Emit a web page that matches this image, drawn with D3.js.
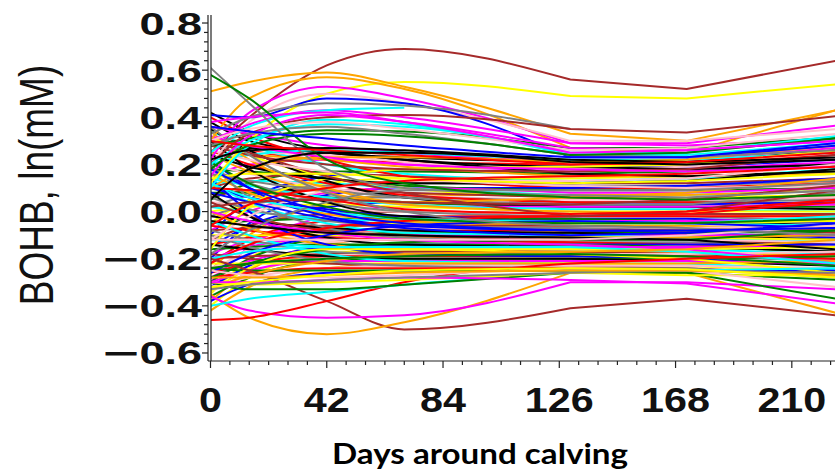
<!DOCTYPE html>
<html>
<head>
<meta charset="utf-8">
<script src="https://cdn.jsdelivr.net/npm/d3@7"></script>
<style>
  html, body { margin: 0; padding: 0; background: #fff; }
  svg { display: block; }
</style>
</head>
<body>
<div id="chart"></div>
<script>
// knot days of each fitted curve (smooth up to day 130, straight after)
var days = [0, 14, 42, 70, 130, 172, 226];

// tick labels
var yTicks = [0.8, 0.6, 0.4, 0.2, 0.0, -0.2, -0.4, -0.6];
var xTicks = [0, 42, 84, 126, 168, 210];

// high curves (values at the knot days)
var upperCurves = [
  [0.25, 0.40, 0.62, 0.69, 0.56, 0.52, 0.64],
  [0.12, 0.30, 0.50, 0.55, 0.49, 0.48, 0.54],
  [0.51, 0.55, 0.59, 0.53, 0.33, 0.30, 0.43],
  [0.30, 0.48, 0.57, 0.52, 0.27, 0.25, 0.43],
  [0.22, 0.42, 0.53, 0.48, 0.29, 0.29, 0.365],
  [0.20, 0.38, 0.50, 0.46, 0.30, 0.30, 0.35],
  [0.41, 0.40, 0.48, 0.46, 0.23, 0.23, 0.28],
  [0.33, 0.40, 0.46, 0.45, 0.35, null, null],
  [0.30, 0.37, 0.43, 0.40, 0.29, 0.28, 0.31],
  [0.25, 0.36, 0.43, 0.44, null, null, null],
  [0.28, 0.31, 0.345, 0.34, 0.27, 0.27, 0.315],
  [0.20, 0.33, 0.40, 0.41, 0.35, 0.335, 0.405],
  [0.20, 0.30, 0.37, 0.36, 0.25, 0.25, 0.32],
  [0.15, 0.32, 0.41, 0.38, 0.27, 0.26, 0.30],
  [0.10, 0.28, 0.39, 0.37, 0.24, 0.24, 0.29],
  [0.30, 0.35, 0.38, 0.35, 0.26, 0.27, 0.33],
  [0.28, 0.33, 0.36, 0.33, 0.24, 0.23, 0.26],
  [0.18, 0.28, 0.33, 0.32, 0.24, 0.25, 0.31],
  [0.38, 0.40, 0.42, 0.38, 0.25, 0.26, 0.30],
  [0.61, 0.46, 0.18, 0.10, 0.07, 0.06, 0.09],
  [0.58, 0.48, 0.22, 0.12, 0.06, 0.05, 0.07],
  [0.22, 0.26, 0.27, 0.26, 0.22, 0.21, 0.23],
  [0.30, 0.28, 0.26, 0.24, 0.20, 0.21, 0.25],
  [0.05, 0.18, 0.25, 0.25, 0.21, 0.20, 0.22],
  [0.36, 0.34, 0.31, 0.28, 0.23, 0.23, 0.29]
];
var upperColors = ["brown", "yellow", "orange", "orange", "magenta", "pink", "blue", "gray",
  "magenta", "cyan", "green", "brown", "cyan", "magenta", "cyan", "pink", "gray", "green",
  "magenta", "gray", "green", "black", "red", "black", "blue"];

// low curves
var lowerCurves = [
  [-0.20, -0.25, -0.38, -0.50, -0.41, -0.37, -0.44],
  [-0.35, -0.45, -0.52, -0.47, -0.26, -0.26, -0.43],
  [-0.36, -0.42, -0.45, -0.44, -0.30, -0.30, -0.33],
  [-0.46, -0.45, -0.38, -0.30, -0.22, -0.20, -0.18],
  [-0.40, -0.37, -0.34, -0.31, -0.26, -0.25, -0.24],
  [-0.30, -0.33, -0.33, -0.31, -0.26, -0.26, -0.37],
  [-0.30, -0.31, -0.30, -0.29, -0.26, -0.27, -0.27],
  [-0.30, -0.30, -0.29, -0.28, -0.29, -0.305, -0.39],
  [-0.25, -0.27, -0.28, -0.27, -0.24, -0.25, -0.32],
  [-0.33, -0.31, -0.29, -0.28, -0.26, -0.25, -0.26],
  [-0.28, -0.28, -0.27, -0.26, -0.25, -0.25, -0.27],
  [-0.32, -0.30, -0.27, -0.25, -0.24, -0.245, -0.28]
];
var lowerColors = ["brown", "orange", "magenta", "red", "cyan", "green", "yellow",
  "magenta", "pink", "gray", "orange", "yellow"];

// the dense middle bundle
var coreCurves = [
  [0.30, 0.26, 0.22, 0.21, 0.20, 0.20, 0.24],
  [-0.10, 0.05, 0.15, 0.18, 0.19, 0.19, 0.22],
  [0.05, 0.12, 0.17, 0.17, 0.16, 0.17, 0.20],
  [0.38, 0.30, 0.25, 0.23, 0.21, 0.21, 0.26],
  [0.15, 0.20, 0.22, 0.20, 0.17, 0.18, 0.21],
  [0.34, 0.28, 0.20, 0.16, 0.13, 0.14, 0.18],
  [-0.05, 0.05, 0.12, 0.14, 0.14, 0.15, 0.17],
  [0.25, 0.24, 0.22, 0.19, 0.15, 0.15, 0.16],
  [0.10, 0.14, 0.16, 0.15, 0.12, 0.12, 0.14],
  [0.22, 0.25, 0.24, 0.21, 0.18, 0.19, 0.23],
  [0.02, 0.07, 0.11, 0.12, 0.11, 0.11, 0.13],
  [0.40, 0.32, 0.22, 0.15, 0.10, 0.10, 0.12],
  [-0.20, -0.05, 0.07, 0.10, 0.10, 0.11, 0.14],
  [0.18, 0.17, 0.14, 0.11, 0.09, 0.09, 0.10],
  [0.28, 0.27, 0.25, 0.22, 0.16, 0.15, 0.17],
  [-0.08, 0.00, 0.08, 0.10, 0.08, 0.08, 0.10],
  [0.12, 0.13, 0.12, 0.10, 0.07, 0.07, 0.09],
  [0.32, 0.24, 0.15, 0.10, 0.06, 0.06, 0.07],
  [-0.25, -0.10, 0.03, 0.07, 0.07, 0.07, 0.09],
  [0.06, 0.09, 0.09, 0.08, 0.06, 0.05, 0.06],
  [0.20, 0.16, 0.10, 0.07, 0.05, 0.05, 0.06],
  [-0.02, 0.03, 0.06, 0.06, 0.04, 0.04, 0.05],
  [0.26, 0.20, 0.12, 0.07, 0.04, 0.04, 0.03],
  [-0.15, -0.06, 0.02, 0.04, 0.03, 0.03, 0.04],
  [0.08, 0.08, 0.06, 0.04, 0.02, 0.02, 0.02],
  [0.35, 0.26, 0.13, 0.06, 0.02, 0.02, 0.01],
  [-0.30, -0.15, -0.02, 0.02, 0.02, 0.02, 0.03],
  [0.14, 0.11, 0.06, 0.03, 0.01, 0.01, 0.00],
  [0.00, 0.02, 0.03, 0.02, 0.00, 0.00, 0.00],
  [0.24, 0.17, 0.08, 0.03, 0.00, -0.01, -0.02],
  [-0.12, -0.06, -0.01, 0.00, -0.01, -0.01, -0.01],
  [0.04, 0.03, 0.01, 0.00, -0.01, -0.02, -0.03],
  [0.18, 0.12, 0.04, 0.00, -0.02, -0.02, -0.04],
  [-0.22, -0.12, -0.04, -0.02, -0.02, -0.02, -0.02],
  [0.10, 0.06, 0.01, -0.02, -0.03, -0.03, -0.05],
  [-0.05, -0.04, -0.03, -0.03, -0.03, -0.04, -0.04],
  [0.30, 0.18, 0.04, -0.02, -0.04, -0.04, -0.06],
  [-0.18, -0.12, -0.06, -0.05, -0.04, -0.04, -0.03],
  [0.02, 0.00, -0.03, -0.04, -0.05, -0.05, -0.06],
  [-0.35, -0.20, -0.08, -0.05, -0.05, -0.05, -0.04],
  [0.16, 0.08, -0.01, -0.04, -0.06, -0.06, -0.08],
  [-0.08, -0.07, -0.06, -0.06, -0.06, -0.07, -0.09],
  [-0.26, -0.16, -0.09, -0.07, -0.07, -0.07, -0.06],
  [0.06, 0.01, -0.04, -0.06, -0.07, -0.08, -0.10],
  [-0.14, -0.11, -0.08, -0.08, -0.08, -0.08, -0.08],
  [0.22, 0.10, -0.02, -0.06, -0.08, -0.09, -0.11],
  [-0.30, -0.20, -0.11, -0.09, -0.09, -0.09, -0.08],
  [-0.02, -0.04, -0.07, -0.08, -0.09, -0.10, -0.12],
  [-0.20, -0.15, -0.11, -0.10, -0.10, -0.10, -0.10],
  [0.12, 0.04, -0.05, -0.09, -0.10, -0.11, -0.13],
  [-0.10, -0.10, -0.10, -0.11, -0.11, -0.11, -0.12],
  [-0.38, -0.25, -0.14, -0.11, -0.11, -0.11, -0.10],
  [0.04, -0.02, -0.08, -0.10, -0.12, -0.12, -0.14],
  [-0.24, -0.18, -0.13, -0.12, -0.12, -0.12, -0.13],
  [0.20, 0.06, -0.07, -0.11, -0.13, -0.13, -0.15],
  [-0.06, -0.08, -0.11, -0.12, -0.13, -0.14, -0.15],
  [-0.32, -0.23, -0.15, -0.14, -0.14, -0.14, -0.14],
  [-0.16, -0.15, -0.14, -0.14, -0.14, -0.15, -0.17],
  [0.08, -0.02, -0.11, -0.14, -0.15, -0.15, -0.17],
  [-0.28, -0.21, -0.16, -0.15, -0.15, -0.15, -0.15],
  [-0.12, -0.13, -0.15, -0.16, -0.16, -0.16, -0.18],
  [-0.40, -0.28, -0.18, -0.16, -0.16, -0.16, -0.15],
  [0.00, -0.07, -0.14, -0.16, -0.17, -0.17, -0.19],
  [-0.20, -0.19, -0.18, -0.17, -0.17, -0.18, -0.20],
  [-0.34, -0.26, -0.19, -0.18, -0.18, -0.18, -0.17],
  [-0.08, -0.12, -0.17, -0.18, -0.18, -0.19, -0.21],
  [-0.26, -0.22, -0.19, -0.19, -0.19, -0.19, -0.20],
  [0.14, 0.00, -0.14, -0.18, -0.19, -0.20, -0.23],
  [-0.36, -0.28, -0.21, -0.20, -0.20, -0.20, -0.19],
  [-0.14, -0.16, -0.19, -0.20, -0.20, -0.21, -0.23],
  [-0.30, -0.25, -0.21, -0.21, -0.21, -0.21, -0.22],
  [-0.04, -0.10, -0.18, -0.21, -0.22, -0.22, -0.25],
  [-0.22, -0.22, -0.22, -0.22, -0.22, -0.23, -0.26],
  [-0.42, -0.32, -0.24, -0.22, -0.22, -0.22, -0.21],
  [-0.18, -0.20, -0.22, -0.23, -0.23, -0.24, -0.27],
  [-0.32, -0.28, -0.24, -0.23, -0.23, -0.23, -0.24],
  [-0.10, -0.15, -0.21, -0.23, -0.24, -0.24, -0.28],
  [-0.28, -0.26, -0.24, -0.24, -0.24, -0.25, -0.26],
  [-0.38, -0.31, -0.26, -0.25, -0.25, -0.25, -0.25],
  [-0.24, -0.25, -0.25, -0.25, -0.25, -0.26, -0.29],
  [0.42, 0.34, 0.26, 0.22, 0.19, 0.18, 0.20],
  [0.36, 0.33, 0.28, 0.25, 0.21, 0.22, 0.27],
  [0.20, 0.24, 0.26, 0.25, 0.22, 0.22, 0.25],
  [-0.16, 0.02, 0.14, 0.18, 0.19, 0.20, 0.26],
  [0.10, 0.18, 0.23, 0.23, 0.21, 0.22, 0.28],
  [0.28, 0.24, 0.20, 0.18, 0.17, 0.18, 0.24],
  [-0.12, -0.02, 0.09, 0.13, 0.13, 0.14, 0.20],
  [0.16, 0.13, 0.09, 0.06, 0.03, 0.03, 0.08],
  [-0.22, -0.14, -0.07, -0.04, -0.02, -0.01, 0.04],
  [0.08, 0.04, -0.03, -0.07, -0.10, -0.09, -0.05],
  [-0.28, -0.22, -0.16, -0.13, -0.12, -0.12, -0.08],
  [0.24, 0.19, 0.14, 0.12, 0.12, 0.13, 0.18],
  [0.00, -0.04, -0.09, -0.12, -0.14, -0.16, -0.22],
  [0.12, 0.06, 0.00, -0.03, -0.04, -0.05, -0.02],
  [-0.34, -0.24, -0.16, -0.16, -0.18, -0.20, -0.26],
  [0.34, 0.22, 0.10, 0.04, 0.06, 0.08, 0.14],
  [0.30, 0.25, 0.15, 0.08, -0.02, 0.00, 0.09],
  [0.26, 0.22, 0.17, 0.14, 0.11, 0.10, 0.11],
  [-0.18, -0.08, 0.04, 0.09, 0.09, 0.09, 0.12],
  [0.10, 0.09, 0.05, 0.01, -0.01, 0.00, 0.05],
  [-0.26, -0.18, -0.10, -0.06, -0.04, -0.05, -0.07],
  [0.21, 0.12, 0.02, -0.03, -0.05, -0.05, -0.03],
  [-0.04, -0.06, -0.09, -0.10, -0.11, -0.12, -0.16],
  [0.32, 0.28, 0.23, 0.20, 0.18, 0.17, 0.19],
  [-0.20, -0.17, -0.15, -0.15, -0.15, -0.17, -0.22],
  [0.14, 0.16, 0.16, 0.14, 0.12, 0.13, 0.16],
  [-0.33, -0.27, -0.21, -0.18, -0.17, -0.16, -0.12],
  [0.02, 0.04, 0.05, 0.04, 0.03, 0.05, 0.11],
  [-0.12, -0.12, -0.12, -0.12, -0.12, -0.10, -0.06],
  [0.36, 0.24, 0.08, 0.00, -0.06, -0.07, -0.10],
  [-0.06, 0.03, 0.10, 0.13, 0.15, 0.16, 0.19],
  [0.18, 0.10, 0.00, -0.05, -0.08, -0.08, -0.07],
  [-0.24, -0.22, -0.20, -0.19, -0.18, -0.19, -0.23]
];

var palette = {
  red: "#ff0000", blue: "#0000ff", green: "#008000", black: "#000000",
  magenta: "#ff00ff", cyan: "#00ffff", yellow: "#ffff00", orange: "#ffa500",
  brown: "#a52a2a", pink: "#ffc0cb", gray: "#808080"
};
var cycle = ["red", "blue", "green", "black", "magenta", "cyan", "yellow", "orange", "brown", "pink", "gray"];

var width = 835, height = 476;

var svg = d3.select("#chart").append("svg")
  .attr("width", width)
  .attr("height", height);

var x = d3.scaleLinear().domain([0, 225.6]).range([210.5, 835]);
var y = d3.scaleLinear().domain([-0.634, 0.834]).range([361, 15]);

var smooth = d3.line()
  .x(function (d) { return x(d[0]); })
  .y(function (d) { return y(d[1]); })
  .curve(d3.curveMonotoneX);

var straight = d3.line()
  .x(function (d) { return x(d[0]); })
  .y(function (d) { return y(d[1]); });

// smooth up to day 130, straight segments between the late visits
function curvePath(vals) {
  var pts = vals.map(function (v, i) { return [days[i], v]; })
    .filter(function (p) { return p[1] != null; });
  var head = smooth(pts.slice(0, 5));
  if (pts.length <= 5) return head;
  return head + straight(pts.slice(4)).replace(/^M/, "L");
}

var all = [];
coreCurves.forEach(function (c, i) { all.push({ v: c, col: palette[cycle[i % cycle.length]] }); });
lowerCurves.forEach(function (c, i) { all.push({ v: c, col: palette[lowerColors[i]] }); });
upperCurves.forEach(function (c, i) { all.push({ v: c, col: palette[upperColors[i]] }); });

svg.append("defs").append("clipPath").attr("id", "plot")
  .append("rect").attr("x", 211).attr("y", 10).attr("width", 630).attr("height", 350);

svg.append("g").attr("clip-path", "url(#plot)")
  .selectAll("path")
  .data(all)
  .enter().append("path")
  .attr("d", function (d) { return curvePath(d.v); })
  .attr("fill", "none")
  .attr("stroke", function (d) { return d.col; })
  .attr("stroke-width", 2)
  .attr("stroke-linejoin", "round");

// axes
var ax = svg.append("g").attr("stroke", "#222").attr("stroke-width", 1.2);
ax.append("line").attr("x1", 208).attr("x2", 208).attr("y1", 15).attr("y2", 361);
ax.append("line").attr("x1", 211).attr("x2", 211).attr("y1", 15).attr("y2", 361);
ax.append("line").attr("x1", 208).attr("x2", 835).attr("y1", 361).attr("y2", 361);

// y ticks every 0.04
d3.range(-30, 42, 2).forEach(function (k) {
  var v = k / 50;
  var major = Math.abs(k % 10) === 0;
  ax.append("line")
    .attr("x1", major ? 202 : 204).attr("x2", 208)
    .attr("y1", y(v)).attr("y2", y(v));
});
// x ticks every 7 days
d3.range(0, 226, 7).forEach(function (d) {
  var major = d % 42 === 0;
  ax.append("line")
    .attr("x1", x(d)).attr("x2", x(d))
    .attr("y1", 361).attr("y2", major ? 368 : 365);
});

var font = "'Liberation Sans', Arial, sans-serif";

var yl = svg.append("g").selectAll("g")
  .data(yTicks)
  .enter().append("g");

yl.append("text")
  .attr("transform", function (d) { return "translate(202," + (y(d) + 11.5) + ") scale(1.45,1)"; })
  .attr("text-anchor", "end")
  .style("font-family", font)
  .style("font-weight", "bold")
  .style("font-size", "31px")
  .attr("fill", "#111")
  .text(function (d) { return Math.abs(d).toFixed(1); });

// long minus sign, set apart as in the original
yl.filter(function (d) { return d < 0; }).append("text")
  .attr("transform", function (d) { return "translate(139," + (y(d) + 11.5) + ") scale(2,1)"; })
  .attr("text-anchor", "end")
  .style("font-family", font)
  .style("font-weight", "bold")
  .style("font-size", "31px")
  .attr("fill", "#111")
  .text("\u2212");

svg.append("g").selectAll("text")
  .data(xTicks)
  .enter().append("text")
  .attr("transform", function (d) { return "translate(" + x(d) + ",412) scale(1.18,1)"; })
  .attr("text-anchor", "middle")
  .style("font-family", font)
  .style("font-weight", "bold")
  .style("font-size", "35px")
  .attr("fill", "#111")
  .text(function (d) { return d; });

svg.append("text")
  .attr("transform", "translate(53,185) scale(1.3,1) rotate(-90)")
  .attr("text-anchor", "middle")
  .style("font-family", font)
  .style("font-size", "37px")
  .attr("fill", "#111")
  .text("BOHB,  ln(mM)");

svg.append("text")
  .attr("x", 480).attr("y", 464)
  .attr("text-anchor", "middle")
  .attr("textLength", 296)
  .attr("lengthAdjust", "spacingAndGlyphs")
  .style("font-family", "Lato, 'Open Sans', sans-serif")
  .style("font-weight", "bold")
  .style("font-size", "29px")
  .attr("fill", "#000")
  .text("Days around calving");
</script>
</body>
</html>
